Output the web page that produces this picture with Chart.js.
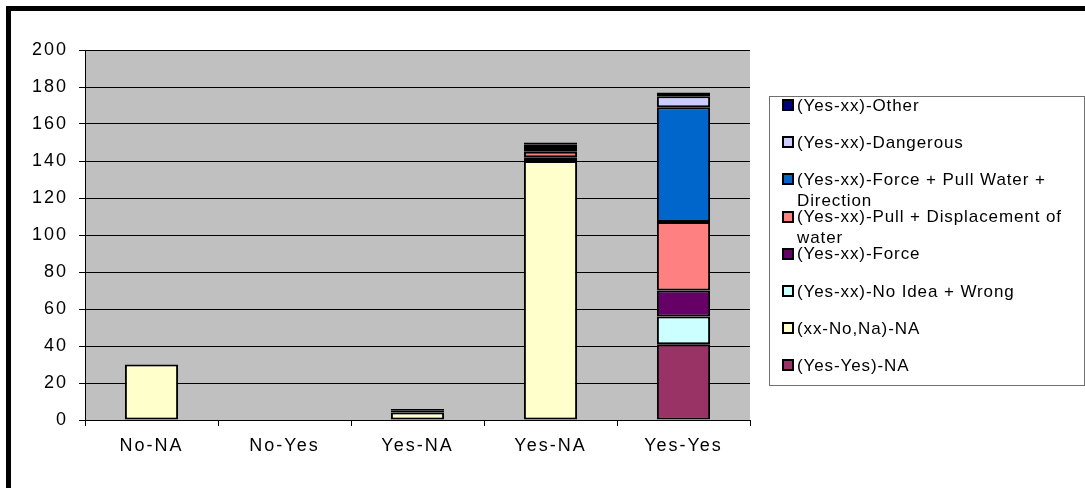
<!DOCTYPE html>
<html>
<head>
<meta charset="utf-8">
<script src="https://cdn.jsdelivr.net/npm/chart.js@4.4.1/dist/chart.umd.min.js"></script>
<style>
  html, body { margin: 0; padding: 0; background: #fff; }
  #wrap { position: relative; width: 1085px; height: 488px; overflow: hidden; }
  #frame {
    position: absolute; left: 6px; top: 6px; width: 1100px; height: 500px;
    border-left: 5px solid #000; border-top: 5px solid #000; pointer-events: none;
  }
  #myChart { position: absolute; left: 0; top: 0; }
  #legendBox {
    position: absolute; left: 769px; top: 96px; width: 314px; height: 288px;
    border: 1px solid #707070; background: #fff;
    font-family: "Liberation Sans", Arial, sans-serif; font-size: 17px;
    letter-spacing: 0.9px; color: #000;
  }
  .legend-item { position: absolute; left: 0; width: 314px; }
  .legend-swatch {
    position: absolute; left: 12px; width: 8px; height: 8px; border: 2px solid #000;
  }
  .legend-text {
    position: absolute; left: 27px; width: 287px; line-height: 21px; white-space: normal;
  }
</style>
</head>
<body>
<div id="wrap">
  <canvas id="myChart" width="1085" height="488"></canvas>
  <div id="frame"></div>
  <div id="legendBox"></div>
</div>

<script>
// ==============================
// DATA
// ==============================
const categories = ["No-NA", "No-Yes", "Yes-NA", "Yes-NA", "Yes-Yes"];

// stacked from bottom to top
const seriesLabels = [
  "(Yes-Yes)-NA",
  "(xx-No,Na)-NA",
  "(Yes-xx)-No Idea + Wrong",
  "(Yes-xx)-Force",
  "(Yes-xx)-Pull + Displacement of water",
  "(Yes-xx)-Force + Pull Water + Direction",
  "(Yes-xx)-Dangerous",
  "(Yes-xx)-Other",
];

const yesYesNA      = [0, 0, 0, 0, 41];
const xxNoNaNA      = [30, 0, 4, 140, 0];
const noIdeaWrong   = [0, 0, 0, 0, 15];
const force         = [0, 0, 1, 2, 14];
const pullDisplace  = [0, 0, 0, 3, 37];
const forcePullDir  = [0, 0, 0, 2, 62];
const dangerous     = [0, 0, 0, 2, 6];
const other         = [0, 0, 1, 1, 2];

const seriesValues = [yesYesNA, xxNoNaNA, noIdeaWrong, force, pullDisplace, forcePullDir, dangerous, other];

const seriesColors = ["#993366", "#FFFFCC", "#CCFFFF", "#660066", "#FF8080", "#0066CC", "#CCCCFF", "#000080"];

const yTicks = { min: 0, max: 200, step: 20 };

// ==============================
// PLUGIN - GRAY PLOT AREA + WIDE TEXT
// ==============================
const plotBackground = {
  id: "plotBackground",
  beforeDraw(chart) {
    const { ctx, chartArea } = chart;
    ctx.save();
    ctx.fillStyle = "#C0C0C0";
    ctx.fillRect(chartArea.left, chartArea.top, chartArea.right - chartArea.left, chartArea.bottom - chartArea.top);
    ctx.restore();
    ctx.letterSpacing = "2px";
  },
  afterDraw(chart) {
    chart.ctx.letterSpacing = "0px";
  },
};

// ==============================
// CHART
// ==============================
const ctx = document.getElementById("myChart").getContext("2d");
const chart = new Chart(ctx, {
  type: "bar",
  data: {
    labels: categories,
    datasets: seriesLabels.map((label, i) => ({
      label: label,
      data: seriesValues[i],
      backgroundColor: seriesColors[i],
      borderColor: "#000",
      borderWidth: 2,
      borderSkipped: false,
      categoryPercentage: 1,
      barPercentage: 0.4,
    })),
  },
  options: {
    responsive: false,
    animation: false,
    devicePixelRatio: 1,
    layout: { padding: { left: 0, top: 50, right: 335, bottom: 0 } },
    plugins: {
      legend: { display: false },
      tooltip: { enabled: false },
    },
    scales: {
      x: {
        stacked: true,
        afterFit: (scale) => { scale.height = 68; },
        grid: { offset: true, drawOnChartArea: false, color: "#000", tickLength: 6 },
        border: { color: "#000", width: 1 },
        ticks: {
          color: "#000",
          padding: 9,
          font: { family: "'Liberation Sans', Arial, sans-serif", size: 18 },
        },
      },
      y: {
        stacked: true,
        min: yTicks.min,
        max: yTicks.max,
        afterFit: (scale) => { scale.width = 85; },
        grid: { color: "#000", tickLength: 6 },
        border: { color: "#000", width: 1 },
        ticks: {
          stepSize: yTicks.step,
          color: "#000",
          padding: 11,
          font: { family: "'Liberation Sans', Arial, sans-serif", size: 18 },
        },
      },
    },
  },
  plugins: [plotBackground],
});

// ==============================
// LEGEND (HTML, reversed like Excel)
// ==============================
const legendBox = document.getElementById("legendBox");
const ordered = chart.data.datasets.slice().reverse();
ordered.forEach((ds, i) => {
  const center = 8 + 37.2 * i;
  const item = document.createElement("div");
  item.className = "legend-item";
  item.style.top = "0px";

  const sw = document.createElement("div");
  sw.className = "legend-swatch";
  sw.style.background = ds.backgroundColor;
  sw.style.top = (center - 6) + "px";

  const tx = document.createElement("div");
  tx.className = "legend-text";
  tx.style.top = (center - 10.5) + "px";
  tx.textContent = ds.label;

  item.appendChild(sw);
  item.appendChild(tx);
  legendBox.appendChild(item);
});
</script>
</body>
</html>
